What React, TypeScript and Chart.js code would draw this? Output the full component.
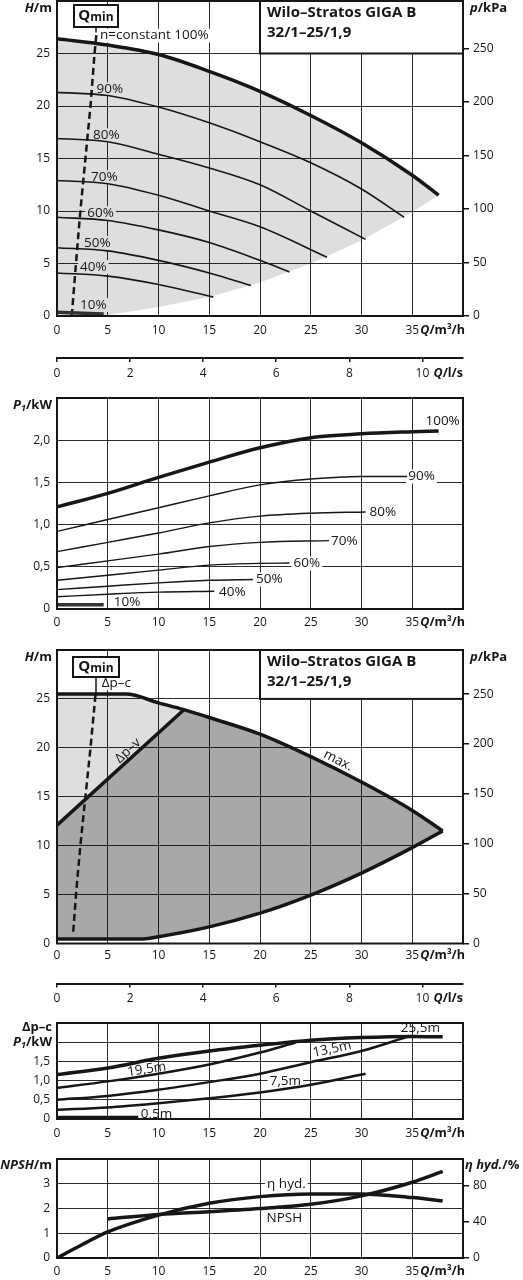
import React, { useEffect, useRef } from 'react';
import { Chart, registerables } from 'chart.js';

Chart.register(...registerables);

const FONT = '"Open Sans", "DejaVu Sans", sans-serif';
const INK = '#161616';
const GRID = '#2c2c2c';
const LIGHT = 'rgba(0, 0, 6, 0.13)';
const LIGHT_SOLID = '#dedede';
const DARK = 'rgba(0, 0, 6, 0.34)';

// axis ticks
const Q_TICKS = [0, 5, 10, 15, 20, 25, 30, 35, 40];
const LPS_TICKS = [0, 2, 4, 6, 8, 10];
const H_TICKS = [0, 5, 10, 15, 20, 25];
const KPA_TICKS = [0, 50, 100, 150, 200, 250];
const KW_TICKS = [0, 0.5, 1, 1.5, 2];
const NPSH_TICKS = [0, 1, 2, 3];
const ETA_TICKS = [0, 40, 80];

// 1) H/m over Q/m³/h, n = constant   [Q, H]
const H_100 = [[0, 26.4], [5, 25.8], [10, 24.9], [15, 23.3], [20, 21.4], [25, 19.1], [30, 16.5], [35, 13.4], [37.6, 11.5]];
const H_90 = [[0, 21.3], [5, 21.0], [10, 19.9], [15, 18.4], [20, 16.6], [25, 14.6], [30, 12.1], [34.2, 9.4]];
const H_80 = [[0, 16.9], [5, 16.6], [10, 15.4], [15, 14.1], [20, 12.5], [25, 10.0], [30.4, 7.3]];
const H_70 = [[0, 12.9], [5, 12.6], [10, 11.5], [15, 10.0], [20, 8.5], [26.6, 5.6]];
const H_60 = [[0, 9.4], [5, 9.1], [10, 8.2], [15, 7.0], [20, 5.3], [22.9, 4.2]];
const H_50 = [[0, 6.5], [5, 6.2], [10, 5.3], [15, 4.1], [19.1, 2.9]];
const H_40 = [[0, 4.1], [5, 3.8], [10, 3.0], [15.4, 1.8]];
const H_10 = [[0, 0.35], [4.6, 0.2]];
const H_LIMIT = [[0, 0], [4.5, 0], [10, 0.85], [15, 1.8], [20, 3.2], [25, 5.0], [30, 7.2], [35, 9.9], [37.6, 11.5]];
const QMIN_1 = [[1.45, 0], [1.87, 5], [2.3, 10], [2.8, 15], [3.3, 20], [3.7, 25], [3.9, 27]];

// 2) P1/kW over Q/m³/h   [Q, P1]
const P_100 = [[0, 1.21], [5, 1.37], [10, 1.56], [15, 1.74], [20, 1.91], [25, 2.03], [30, 2.075], [35, 2.1], [37.6, 2.11]];
const P_90 = [[0, 0.92], [5, 1.06], [10, 1.2], [15, 1.34], [20, 1.47], [25, 1.54], [30, 1.57], [34.5, 1.57]];
const P_80 = [[0, 0.68], [5, 0.79], [10, 0.9], [15, 1.02], [20, 1.1], [25, 1.135], [30.4, 1.15]];
const P_70 = [[0, 0.49], [5, 0.57], [10, 0.65], [15, 0.74], [20, 0.79], [26.8, 0.81]];
const P_60 = [[0, 0.34], [5, 0.4], [10, 0.46], [15, 0.52], [20, 0.54], [22.9, 0.545]];
const P_50 = [[0, 0.23], [5, 0.27], [10, 0.31], [15, 0.34], [19.3, 0.35]];
const P_40 = [[0, 0.145], [5, 0.175], [10, 0.2], [15.5, 0.21]];
const P_10 = [[0, 0.05], [4.6, 0.05]];

// 3) H/m, Δp-c / Δp-v operating range   [Q, H]
const DP_MAX = [[0, 25.5], [6.8, 25.5], [10, 24.6], [12.5, 23.9], [15, 23.1], [20, 21.4], [25, 19.1], [30, 16.5], [35, 13.6], [38, 11.5]];
const DP_V = [[0, 12.1], [12.5, 23.9]];
const DP_MIN = [[0, 0.45], [8.2, 0.45], [10, 0.7], [15, 1.7], [20, 3.1], [25, 4.95], [30, 7.2], [35, 9.8], [38, 11.5]];
const QMIN_3 = [[1.6, 1.2], [1.87, 5], [2.3, 10], [2.8, 15], [3.3, 20], [3.8, 25.5]];

// 4) Δp-c P1/kW   [Q, P1]
const C_255 = [[0, 1.16], [5, 1.33], [10, 1.58], [15, 1.77], [20, 1.92], [25, 2.05], [30, 2.12], [35, 2.15], [38, 2.14]];
const C_195 = [[0, 0.81], [5, 0.98], [10, 1.18], [15, 1.42], [20, 1.73], [23.5, 1.99]];
const C_135 = [[0, 0.5], [5, 0.6], [10, 0.76], [15, 0.96], [20, 1.18], [25, 1.48], [30, 1.77], [34.5, 2.14]];
const C_75 = [[0, 0.24], [5, 0.3], [10, 0.41], [15, 0.54], [20, 0.69], [25, 0.89], [30.4, 1.18]];
const C_05 = [[0, 0.04], [8, 0.04]];

// 5) NPSH/m and η hyd./%   [Q, value]
const ETA = [[0, 0], [2.5, 15], [5, 29], [10, 47.7], [15, 60.8], [20, 68.2], [25, 71.2], [30, 71.2], [35, 67.1], [38, 63.4]];
const NPSH = [[5, 1.58], [10, 1.76], [15, 1.87], [20, 2.0], [25, 2.17], [30, 2.51], [35, 3.06], [38, 3.5]];

const tickFont = { family: FONT, size: 12 };
const B = (s: number) => `bold ${s}px ${FONT}`;
const BI = (s: number) => `italic bold ${s}px ${FONT}`;
const dec = (v: number) => (v === 0 ? '0' : v.toFixed(1).replace('.', ','));

const mk = (p: number[][]) => p.map(([x, y]) => ({ x, y }));
const curve = (p: number[][], w: number, extra: object = {}) => ({
  data: mk(p),
  borderColor: INK,
  borderWidth: w,
  pointRadius: 0,
  cubicInterpolationMode: 'monotone',
  fill: false,
  ...extra,
});
const dashed = (p: number[][]) => curve(p, 2.5, { borderDash: [7, 4], cubicInterpolationMode: 'default', tension: 0 });
const patch = (p: number[][], color: string) => ({
  data: mk(p),
  borderWidth: 0,
  backgroundColor: color,
  pointRadius: 0,
  tension: 0,
  fill: 'shape',
});

// fixed axis boxes so every plot area lands where the reference has it
const fit = (size: number) => (s: any) => {
  if (s.isHorizontal()) s.height = size;
  else s.width = size;
  s.paddingLeft = s.paddingRight = s.paddingTop = s.paddingBottom = 0;
};
const only = (vals: number[]) => (s: any) => {
  s.ticks = vals.map((value) => ({ value }));
};

function qScale(height: number, pad: number) {
  return {
    type: 'linear', position: 'bottom', min: 0, max: 40,
    afterBuildTicks: only(Q_TICKS), afterFit: fit(height),
    grid: { color: GRID, lineWidth: 1, drawTicks: false },
    border: { display: false },
    ticks: { padding: pad, color: INK, font: tickFont, autoSkip: false, maxRotation: 0, callback: (v: number) => (v === 40 ? '' : String(v)) },
  };
}
function lpsScale(height: number, pad: number) {
  return {
    type: 'linear', position: 'bottom', weight: 1, min: 0, max: 40 / 3.6,
    afterBuildTicks: only(LPS_TICKS), afterFit: fit(height),
    grid: { drawOnChartArea: false, color: INK, lineWidth: 1.5, tickLength: 4 },
    border: { display: true, color: INK, width: 2 },
    ticks: { padding: pad, color: INK, font: tickFont, autoSkip: false, maxRotation: 0 },
  };
}
function leftScale(max: number, ticks: number[], fmt: (v: number) => string) {
  return {
    type: 'linear', position: 'left', min: 0, max,
    afterBuildTicks: only(ticks), afterFit: fit(57),
    grid: { color: GRID, lineWidth: 1, drawTicks: false },
    border: { display: false },
    ticks: { padding: 7, color: INK, font: tickFont, callback: (v: number) => fmt(v) },
  };
}
function rightScale(max: number, ticks: number[]) {
  return {
    type: 'linear', position: 'right', min: 0, max,
    afterBuildTicks: only(ticks), afterFit: fit(60),
    grid: { drawOnChartArea: false, color: INK, lineWidth: 1.5, tickLength: 6 },
    border: { display: false },
    ticks: { padding: 4, color: INK, font: tickFont },
  };
}

// ---- drawing helpers for the printed annotations
type Run = [string, string, number?];
function rich(ctx: CanvasRenderingContext2D, runs: Run[], x: number, y: number, align: 'left' | 'right' | 'center' = 'left') {
  ctx.save();
  ctx.textBaseline = 'middle';
  ctx.textAlign = 'left';
  ctx.fillStyle = INK;
  const widths = runs.map(([t, f]) => {
    ctx.font = f;
    return ctx.measureText(t).width;
  });
  const total = widths.reduce((s, w) => s + w, 0);
  let cx = align === 'right' ? x - total : align === 'center' ? x - total / 2 : x;
  runs.forEach(([t, f, dy = 0], i) => {
    ctx.font = f;
    ctx.fillText(t, cx, y + dy);
    cx += widths[i];
  });
  ctx.restore();
}

function tag(ctx: CanvasRenderingContext2D, text: string, x: number, y: number, o: { align?: CanvasTextAlign; bg?: string; rot?: number } = {}) {
  const { align = 'left', bg, rot = 0 } = o;
  ctx.save();
  ctx.translate(x, y);
  ctx.rotate((rot * Math.PI) / 180);
  ctx.font = `13.5px ${FONT}`;
  ctx.textAlign = align;
  ctx.textBaseline = 'middle';
  if (bg) {
    const w = ctx.measureText(text).width;
    const x0 = align === 'left' ? 0 : align === 'right' ? -w : -w / 2;
    ctx.fillStyle = bg;
    ctx.fillRect(x0 - 2, -7, w + 4, 14);
  }
  ctx.fillStyle = INK;
  ctx.fillText(text, 0, 0);
  ctx.restore();
}

function frame(ctx: CanvasRenderingContext2D, a: any) {
  ctx.save();
  ctx.strokeStyle = INK;
  ctx.lineWidth = 2;
  ctx.strokeRect(a.left, a.top, a.right - a.left, a.bottom - a.top);
  ctx.restore();
}

function titleBox(ctx: CanvasRenderingContext2D, x0: number, y0: number, x1: number, y1: number) {
  ctx.save();
  ctx.fillStyle = '#fff';
  ctx.fillRect(x0, y0, x1 - x0, y1 - y0);
  ctx.strokeStyle = INK;
  ctx.lineWidth = 2;
  ctx.strokeRect(x0, y0, x1 - x0, y1 - y0);
  ctx.fillStyle = INK;
  ctx.font = B(15);
  ctx.textAlign = 'left';
  ctx.textBaseline = 'alphabetic';
  ctx.fillText('Wilo–Stratos GIGA B', x0 + 7, y0 + 16);
  ctx.fillText('32/1–25/1,9', x0 + 7, y0 + 35.5);
  ctx.restore();
}

function qminBox(ctx: CanvasRenderingContext2D, x: number, y: number, w: number, h: number, lineEnd: number) {
  ctx.save();
  ctx.strokeStyle = INK;
  ctx.lineWidth = 1.5;
  ctx.beginPath();
  ctx.moveTo(x + w / 2, y + h);
  ctx.lineTo(x + w / 2, lineEnd);
  ctx.stroke();
  ctx.fillStyle = '#fff';
  ctx.fillRect(x, y, w, h);
  ctx.lineWidth = 2;
  ctx.strokeRect(x, y, w, h);
  ctx.restore();
  rich(ctx, [['Q', B(15)], ['min', B(12), 2]], x + w / 2, y + h / 2, 'center');
}

const qTitle = (ctx: CanvasRenderingContext2D, a: any, off: number) =>
  rich(ctx, [['Q', BI(12.5)], ['/m³/h', B(12.5)]], a.right + 2, a.bottom + off, 'right');

function tools(chart: any) {
  const { ctx, chartArea: a, scales } = chart;
  return {
    ctx: ctx as CanvasRenderingContext2D,
    a,
    X: (v: number) => scales.x.getPixelForValue(v),
    Y: (v: number) => scales.y.getPixelForValue(v),
  };
}

// ---- panel decorations
const deco1 = {
  id: 'deco1',
  beforeDatasetsDraw(chart: any) {
    const { ctx, X, Y } = tools(chart);
    tag(ctx, 'n=constant 100%', X(4.24), Y(26.7), { bg: '#fff' });
    tag(ctx, '90%', X(3.9), Y(21.6), { bg: LIGHT_SOLID });
    tag(ctx, '80%', X(3.55), Y(17.2), { bg: LIGHT_SOLID });
    tag(ctx, '70%', X(3.35), Y(13.2), { bg: LIGHT_SOLID });
    tag(ctx, '60%', X(2.99), Y(9.8), { bg: LIGHT_SOLID });
    tag(ctx, '50%', X(2.66), Y(6.95), { bg: LIGHT_SOLID });
    tag(ctx, '40%', X(2.27), Y(4.67), { bg: LIGHT_SOLID });
    tag(ctx, '10%', X(2.27), Y(1.05), { bg: LIGHT_SOLID });
  },
  afterDraw(chart: any) {
    const { ctx, a, X, Y } = tools(chart);
    frame(ctx, a);
    titleBox(ctx, X(20), a.top, a.right, Y(25));
    qminBox(ctx, a.left + 17, a.top + 4, 44, 22, Y(27));
    rich(ctx, [['H', BI(13)], ['/m', B(13)]], a.left - 5, a.top + 7, 'right');
    rich(ctx, [['p', BI(13)], ['/kPa', B(13)]], a.right + 7, a.top + 7);
    qTitle(ctx, a, 14);
    rich(ctx, [['Q', BI(12.5)], ['/l/s', B(12.5)]], a.right, a.bottom + 57, 'right');
  },
};

const deco2 = {
  id: 'deco2',
  beforeDatasetsDraw(chart: any) {
    const { ctx, X, Y } = tools(chart);
    tag(ctx, '100%', X(36.3), Y(2.22));
    tag(ctx, '90%', X(34.6), Y(1.57), { bg: '#fff' });
    tag(ctx, '80%', X(30.8), Y(1.15), { bg: '#fff' });
    tag(ctx, '70%', X(27.0), Y(0.8), { bg: '#fff' });
    tag(ctx, '60%', X(23.3), Y(0.54), { bg: '#fff' });
    tag(ctx, '50%', X(19.6), Y(0.35), { bg: '#fff' });
    tag(ctx, '40%', X(15.96), Y(0.2), { bg: '#fff' });
    tag(ctx, '10%', X(5.6), Y(0.08), { bg: '#fff' });
  },
  afterDraw(chart: any) {
    const { ctx, a } = tools(chart);
    frame(ctx, a);
    rich(ctx, [['P', BI(13)], ['1', BI(9), 3], ['/kW', B(13)]], a.left - 5, a.top + 7, 'right');
    qTitle(ctx, a, 13.3);
  },
};

const deco3 = {
  id: 'deco3',
  beforeDatasetsDraw(chart: any) {
    const { ctx, X, Y } = tools(chart);
    tag(ctx, 'Δp–c', X(4.4), Y(26.6), { bg: '#fff' });
    tag(ctx, 'Δp–v', X(7.0), Y(19.7), { align: 'center', rot: -43 });
    tag(ctx, 'max.', X(27.7), Y(18.7), { align: 'center', rot: 27 });
  },
  afterDraw(chart: any) {
    const { ctx, a, X, Y } = tools(chart);
    frame(ctx, a);
    titleBox(ctx, X(20), a.top, a.right, Y(25));
    qminBox(ctx, a.left + 16, a.top + 7, 46, 20, Y(25.5));
    rich(ctx, [['H', BI(13)], ['/m', B(13)]], a.left - 5, a.top + 7, 'right');
    rich(ctx, [['p', BI(13)], ['/kPa', B(13)]], a.right + 7, a.top + 7);
    qTitle(ctx, a, 12.2);
    rich(ctx, [['Q', BI(12.5)], ['/l/s', B(12.5)]], a.right, a.bottom + 54.5, 'right');
  },
};

const deco4 = {
  id: 'deco4',
  beforeDatasetsDraw(chart: any) {
    const { ctx, X, Y } = tools(chart);
    tag(ctx, '25,5m', X(35.8), Y(2.36), { align: 'center' });
    tag(ctx, '19,5m', X(8.84), Y(1.29), { align: 'center', rot: -8.5 });
    tag(ctx, '13,5m', X(27.1), Y(1.82), { align: 'center', rot: -12 });
    tag(ctx, '7,5m', X(22.5), Y(0.98), { align: 'center', bg: '#fff' });
    tag(ctx, '0,5m', X(9.8), Y(0.12), { align: 'center' });
  },
  afterDraw(chart: any) {
    const { ctx, a, Y } = tools(chart);
    frame(ctx, a);
    rich(ctx, [['Δp–c', B(13)]], a.left - 5, a.top + 4, 'right');
    rich(ctx, [['P', BI(13)], ['1', BI(9), 3], ['/kW', B(13)]], a.left - 5, Y(2), 'right');
    qTitle(ctx, a, 14);
  },
};

const deco5 = {
  id: 'deco5',
  beforeDatasetsDraw(chart: any) {
    const { ctx, X, Y } = tools(chart);
    tag(ctx, 'η hyd.', X(22.6), Y(2.99), { align: 'center', bg: '#fff' });
    tag(ctx, 'NPSH', X(22.4), Y(1.63), { align: 'center' });
  },
  afterDraw(chart: any) {
    const { ctx, a } = tools(chart);
    frame(ctx, a);
    rich(ctx, [['NPSH', BI(13)], ['/m', B(13)]], a.left - 5, a.top + 6, 'right');
    rich(ctx, [['η hyd.', BI(13)], ['/%', B(13)]], a.right + 2, a.top + 6);
    qTitle(ctx, a, 13.7);
  },
};

function config(scales: object, padTop: number, padRight: number, plugin: object, datasets: object[]) {
  return {
    type: 'line',
    data: { datasets },
    options: {
      animation: false,
      responsive: true,
      maintainAspectRatio: false,
      events: [],
      layout: { padding: { top: padTop, right: padRight, left: 0, bottom: 0 } },
      plugins: {
        legend: { display: false },
        tooltip: { enabled: false },
        filler: { drawTime: 'beforeDatasetsDraw' },
      },
      scales,
    },
    plugins: [plugin],
  };
}

const PANELS = [
  { top: 0, height: 388 },
  { top: 388, height: 250 },
  { top: 638, height: 374 },
  { top: 1012, height: 130 },
  { top: 1142, height: 138 },
];

function makeConfigs() {
  const shade = [...H_100, ...[...H_LIMIT].reverse()];
  const light = [...DP_MAX.filter(([q]) => q <= 12.5), DP_V[0]];
  const dark = [...DP_V, ...DP_MAX.filter(([q]) => q > 12.5), ...[...DP_MIN].reverse()];
  return [
    config(
      { x: qScale(42, 7), lps: lpsScale(30, 4), y: leftScale(30, H_TICKS, String), p: rightScale(30 * 9.81, KPA_TICKS) },
      1, 0, deco1,
      [
        curve(H_100, 3.5), curve(H_90, 1.6), curve(H_80, 1.6), curve(H_70, 1.6),
        curve(H_60, 1.6), curve(H_50, 1.6), curve(H_40, 1.6), curve(H_10, 3.5, { borderColor: '#333' }),
        dashed(QMIN_1), patch(shade, LIGHT),
      ],
    ),
    config(
      { x: qScale(29, 6), y: leftScale(2.5, KW_TICKS, dec) },
      10, 60, deco2,
      [
        curve(P_100, 3.5), curve(P_90, 1.4), curve(P_80, 1.4), curve(P_70, 1.4),
        curve(P_60, 1.4), curve(P_50, 1.4), curve(P_40, 1.4), curve(P_10, 3.5, { borderColor: '#333' }),
      ],
    ),
    config(
      { x: qScale(40, 5), lps: lpsScale(28.5, 3.5), y: leftScale(30, H_TICKS, String), p: rightScale(30 * 9.81, KPA_TICKS) },
      12, 0, deco3,
      [
        curve(DP_MAX, 3.5), curve(DP_V, 3.5, { cubicInterpolationMode: 'default', tension: 0 }), curve(DP_MIN, 3.5),
        dashed(QMIN_3), patch(light, LIGHT), patch(dark, DARK),
      ],
    ),
    config(
      { x: qScale(23, 7), y: leftScale(2.5, KW_TICKS, (v) => (v === 2 ? '' : dec(v))) },
      11, 60, deco4,
      [curve(C_255, 3.5), curve(C_195, 2.5), curve(C_135, 2.5), curve(C_75, 2.5), curve(C_05, 3.5)],
    ),
    config(
      { x: qScale(22, 6.5), y: leftScale(4, NPSH_TICKS, String), eta: rightScale(110, ETA_TICKS) },
      17, 0, deco5,
      [curve(ETA, 3.5, { yAxisID: 'eta' }), curve(NPSH, 3.5)],
    ),
  ];
}

export default function App() {
  const r0 = useRef<HTMLCanvasElement>(null);
  const r1 = useRef<HTMLCanvasElement>(null);
  const r2 = useRef<HTMLCanvasElement>(null);
  const r3 = useRef<HTMLCanvasElement>(null);
  const r4 = useRef<HTMLCanvasElement>(null);
  const refs = [r0, r1, r2, r3, r4];

  useEffect(() => {
    const configs = makeConfigs();
    const charts = refs.map((r, i) => new Chart(r.current as HTMLCanvasElement, configs[i] as any));
    return () => charts.forEach((c) => c.destroy());
  }, []);

  return (
    <div style={{ position: 'absolute', left: 0, top: 0, width: 523, height: 1280, background: '#fff' }}>
      {PANELS.map((p, i) => (
        <div key={i} style={{ position: 'absolute', left: 0, top: p.top, width: 523, height: p.height }}>
          <canvas ref={refs[i]} />
        </div>
      ))}
    </div>
  );
}
